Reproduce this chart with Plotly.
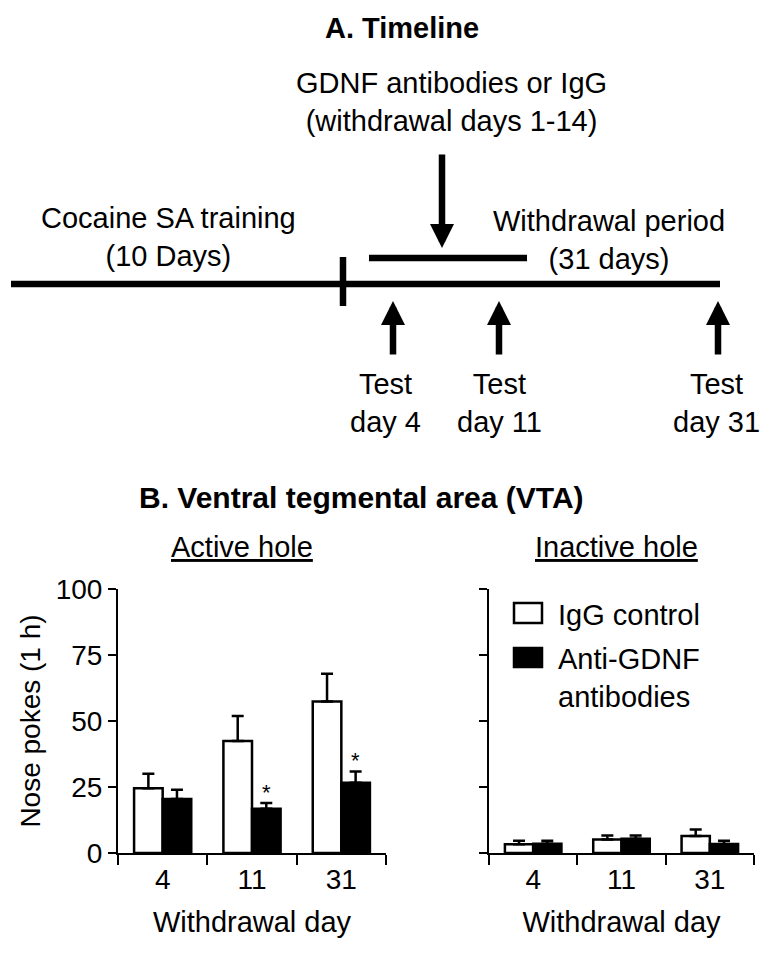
import plotly.graph_objects as go

# ---------------- data ----------------
days = ["4", "11", "31"]
active_igg = [24.5, 42.4, 57.4]
active_igg_sem = [5.5, 9.5, 10.5]
active_anti = [20.5, 16.8, 26.6]
active_anti_sem = [3.5, 2.1, 4.3]
inactive_igg = [3.3, 5.1, 6.4]
inactive_igg_sem = [1.3, 1.5, 2.5]
inactive_anti = [3.5, 5.4, 3.4]
inactive_anti_sem = [1.1, 1.2, 1.2]
y_ticks = [0, 25, 50, 75, 100]
significant_active = [False, True, True]  # asterisks on anti-GDNF bars

W, H = 772, 954
FONT = "Liberation Sans, Arial, sans-serif"
FS = 29


def px(x):
    return x / W


def py(y):
    return 1 - y / H


fig = go.Figure()

def add_bars(vals, sem, fill, xa, ya, name):
    fig.add_trace(go.Bar(
        x=days, y=vals, name=name, xaxis=xa, yaxis=ya,
        marker=dict(color=fill, line=dict(color="black", width=2.5)),
        error_y=dict(type="data", symmetric=False, array=sem,
                     arrayminus=[0] * len(sem), color="black",
                     thickness=2.5, width=6),
        showlegend=False,
    ))

add_bars(active_igg, active_igg_sem, "white", "x", "y", "IgG control")
add_bars(active_anti, active_anti_sem, "black", "x", "y", "Anti-GDNF antibodies")
add_bars(inactive_igg, inactive_igg_sem, "white", "x2", "y2", "IgG control")
add_bars(inactive_anti, inactive_anti_sem, "black", "x2", "y2", "Anti-GDNF antibodies")

xa_common = dict(type="category", range=[-0.5, 2.5], tickson="boundaries",
                 ticks="outside", ticklen=10, tickwidth=2, tickcolor="black",
                 showline=True, linewidth=2, linecolor="black",
                 showgrid=False, zeroline=False, automargin=False,
                 tickfont=dict(family=FONT, size=28, color="black"),
                 title=dict(text="Withdrawal day",
                            font=dict(family=FONT, size=FS, color="black"),
                            standoff=18))
ya_common = dict(range=[0, 100], tickvals=y_ticks, ticks="outside", ticklen=8,
                 tickwidth=2, tickcolor="black", showline=True, linewidth=2,
                 linecolor="black", showgrid=False, zeroline=False,
                 automargin=False,
                 tickfont=dict(family=FONT, size=28, color="black"))

ydom = [py(853), py(589)]
fig.update_layout(
    width=W, height=H,
    margin=dict(l=0, r=0, t=0, b=0, pad=0, autoexpand=False),
    paper_bgcolor="white", plot_bgcolor="white",
    barmode="group", bargap=0.36, bargroupgap=0,
    showlegend=False,
    font=dict(family=FONT, size=FS, color="black"),
    xaxis=dict(domain=[px(118), px(386)], anchor="y", **xa_common),
    yaxis=dict(domain=ydom, anchor="x",
               title=dict(text="Nose pokes (1 h)",
                          font=dict(family=FONT, size=28, color="black"),
                          standoff=7),
               **ya_common),
    xaxis2=dict(domain=[px(489), px(754)], anchor="y2", **xa_common),
    yaxis2=dict(domain=ydom, anchor="x2", showticklabels=False, **ya_common),
)

# significance asterisks
for i, sig in enumerate(significant_active):
    if sig:
        fig.add_annotation(x=i + 0.16, y=active_anti[i] + active_anti_sem[i],
                           xref="x", yref="y", text="*", showarrow=False,
                           font=dict(family=FONT, size=22, color="black"),
                           yanchor="middle", yshift=11)

# ---------------- timeline (panel A) ----------------
LW = 6.5
for (x0, y0, x1, y1) in [(11, 284, 720, 284), (343, 257, 343, 306), (369, 258, 527, 258)]:
    fig.add_shape(type="line", xref="paper", yref="paper",
                  x0=px(x0), y0=py(y0), x1=px(x1), y1=py(y1),
                  line=dict(color="black", width=LW))

# arrows: (x, tip_y, tail_y)
for (x, tip, tail) in [(442, 248, 153), (393, 301, 356), (499, 301, 356), (718, 301, 356)]:
    fig.add_annotation(xref="paper", yref="paper", x=px(x), y=py(tip),
                       ax=0, ay=tail - tip, text="", showarrow=True,
                       arrowhead=2, arrowsize=0.74, arrowwidth=LW,
                       arrowcolor="black", standoff=0, startstandoff=0)

def text(x, y, t, bold=False, size=FS, xanchor="center"):
    fig.add_annotation(xref="paper", yref="paper", x=px(x), y=py(y),
                       text=f"<b>{t}</b>" if bold else t, showarrow=False,
                       xanchor=xanchor, yanchor="middle", align="center" if xanchor == "center" else "left",
                       font=dict(family=FONT, size=size, color="black"))

text(402, 28, "A. Timeline", bold=True, size=29)
text(451, 102, "GDNF antibodies or IgG<br>(withdrawal days 1-14)")
text(168, 237, "Cocaine SA training<br>(10 Days)")
text(609, 240, "Withdrawal period<br>(31 days)")
text(385, 403, "Test<br>day 4")
text(499, 403, "Test<br>day 11")
text(716, 403, "Test<br>day 31")

# ---------------- panel B headings ----------------
text(361, 497, "B. Ventral tegmental area (VTA)", bold=True, size=30)
text(241.5, 547, "<u>Active hole</u>")
text(616, 547, "<u>Inactive hole</u>")

# ---------------- legend ----------------
fig.add_shape(type="rect", xref="paper", yref="paper",
              x0=px(514), x1=px(542), y0=py(623), y1=py(603),
              fillcolor="white", line=dict(color="black", width=2.5))
fig.add_shape(type="rect", xref="paper", yref="paper",
              x0=px(514), x1=px(542), y0=py(667), y1=py(648),
              fillcolor="black", line=dict(color="black", width=2.5))
text(556, 615, "IgG control", xanchor="left")
text(556, 678, "Anti-GDNF<br>antibodies", xanchor="left")

fig.write_html(
    "out.html",
    config={"displayModeBar": False},
    post_script="document.body.style.margin='0';document.body.style.padding='0';",
)
